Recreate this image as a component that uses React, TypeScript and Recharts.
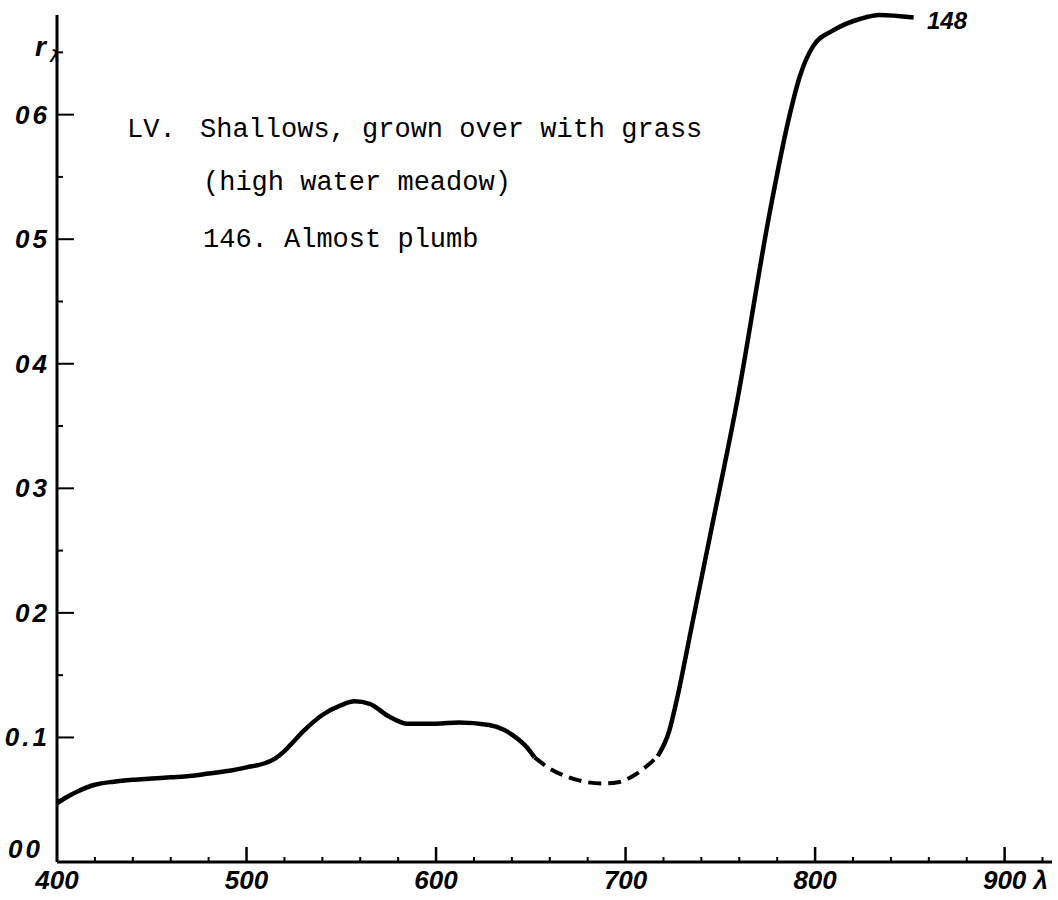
import React from "react";
import { LineChart, Line, XAxis, YAxis } from "recharts";

const wavelengths = [400, 405, 410, 420, 430, 440, 450, 460, 470, 480, 490, 500, 510, 515, 520, 525, 530, 540, 550, 557, 565, 575, 585, 600, 612, 628, 636, 643, 648, 652, 660, 670, 680, 688, 696, 705, 712, 717, 723, 727, 735, 745, 759, 776, 786, 792, 799, 810, 824, 834, 852];

const solidValues: (number | null)[] = [0.047, 0.052, 0.056, 0.062, 0.0645, 0.066, 0.067, 0.068, 0.069, 0.071, 0.073, 0.076, 0.0795, 0.083, 0.089, 0.097, 0.105, 0.118, 0.126, 0.129, 0.127, 0.117, 0.111, 0.111, 0.112, 0.110, 0.106, 0.099, 0.092, 0.084, null, null, null, null, null, null, null, 0.085, 0.105, 0.130, 0.190, 0.265, 0.371, 0.521, 0.596, 0.631, 0.655, 0.668, 0.677, 0.680, 0.678];

const dashedValues: (number | null)[] = [null, null, null, null, null, null, null, null, null, null, null, null, null, null, null, null, null, null, null, null, null, null, null, null, null, null, null, null, null, 0.084, 0.075, 0.068, 0.064, 0.063, 0.064, 0.070, 0.078, 0.085, null, null, null, null, null, null, null, null, null, null, null, null, null];

const xTicks = [400, 420, 440, 460, 480, 500, 520, 540, 560, 580, 600, 620, 640, 660, 680, 700, 720, 740, 760, 780, 800, 820, 840, 860, 880, 900, 920];
const xMajorLabels: Record<number, string> = { 400: "400", 500: "500", 600: "600", 700: "700", 800: "800", 900: "900" };

const yTicks = [0, 0.05, 0.1, 0.15, 0.2, 0.25, 0.3, 0.35, 0.4, 0.45, 0.5, 0.55, 0.6, 0.65];
const yTickLabels = ["00", "", "0.1", "", "02", "", "03", "", "04", "", "05", "", "06", ""];

const titleLines = ["Shallows, grown over with grass", "(high water meadow)", "146. Almost plumb"];
const sectionLabel = "LV.";
const curveLabel = "148";
const yAxisName = "r";
const axisSymbol = "λ";

const data = wavelengths.map((w, i) => ({ w, solid: solidValues[i], dashed: dashedValues[i] }));

const tickFont = {
  fontFamily: "'Liberation Sans', Arial, sans-serif",
  fontWeight: 700,
  fontStyle: "italic" as const,
  fontSize: 26,
  fill: "#000",
};

const YTick = (props: any) => {
  const { x, y, payload } = props;
  const idx = yTicks.findIndex((t) => Math.abs(t - payload.value) < 1e-6);
  const label = idx >= 0 ? yTickLabels[idx] : "";
  const major = label !== "";
  const isZero = idx === 0;
  return (
    <g>
      {!isZero && (
        <line x1={x} x2={x + (major ? 17 : 6)} y1={y} y2={y} stroke="#000" strokeWidth={2} />
      )}
      {major && (
        <text
          x={isZero ? x - 14 : x - 7}
          y={isZero ? y - 4 : y + 9}
          textAnchor="end"
          letterSpacing={3}
          {...tickFont}
        >
          {label}
        </text>
      )}
    </g>
  );
};

const XTick = (props: any) => {
  const { x, y, payload } = props;
  const v = payload.value;
  const label = xMajorLabels[v];
  const major = label !== undefined;
  return (
    <g>
      {v !== 400 && (
        <line x1={x} x2={x} y1={y} y2={y - (major ? 15 : 5)} stroke="#000" strokeWidth={major ? 2.5 : 2} />
      )}
      {major && (
        <text x={x} y={y + 27} textAnchor="middle" {...tickFont}>
          {label}
        </text>
      )}
      {v === 900 && (
        <text x={x + 36} y={y + 27} textAnchor="middle" {...tickFont}>
          {axisSymbol}
        </text>
      )}
    </g>
  );
};

const monoFont = {
  fontFamily: "'Liberation Mono', 'DejaVu Sans Mono', monospace",
  fontSize: 27,
  fill: "#000",
};

export default function App() {
  return (
    <div style={{ position: "absolute", left: 0, top: 0, width: 1058, height: 900, background: "#fff" }}>
      <LineChart width={1058} height={900} data={data} margin={{ top: 15, right: 6, bottom: 0, left: 0 }}>
        <XAxis
          dataKey="w"
          type="number"
          domain={[400, 925]}
          ticks={xTicks}
          interval={0}
          height={38}
          tickSize={0}
          tickMargin={0}
          tick={<XTick />}
          axisLine={{ stroke: "#000", strokeWidth: 3 }}
          tickLine={false}
        />
        <YAxis
          type="number"
          domain={[0, 0.68]}
          ticks={yTicks}
          interval={0}
          width={57}
          tickSize={0}
          tickMargin={0}
          tick={<YTick />}
          axisLine={{ stroke: "#000", strokeWidth: 3 }}
          tickLine={false}
        />
        <Line
          dataKey="solid"
          type="monotone"
          stroke="#000"
          strokeWidth={4.5}
          dot={false}
          connectNulls={false}
          isAnimationActive={false}
        />
        <Line
          dataKey="dashed"
          type="monotone"
          stroke="#000"
          strokeWidth={4}
          strokeDasharray="13 7"
          dot={false}
          connectNulls={false}
          isAnimationActive={false}
        />
      </LineChart>
      <svg
        width={1058}
        height={900}
        style={{ position: "absolute", left: 0, top: 0, pointerEvents: "none" }}
      >
        <text x={35} y={56} {...tickFont} fontSize={28}>
          {yAxisName}
        </text>
        <text x={50} y={62} {...tickFont} fontSize={17}>
          {axisSymbol}
        </text>
        <text x={127} y={137} {...monoFont}>
          {sectionLabel}
        </text>
        <text x={200} y={137} {...monoFont}>
          {titleLines[0]}
        </text>
        <text x={203} y={190} {...monoFont}>
          {titleLines[1]}
        </text>
        <text x={203} y={247} {...monoFont}>
          {titleLines[2]}
        </text>
        <text x={927} y={29} {...tickFont} fontSize={24}>
          {curveLabel}
        </text>
      </svg>
    </div>
  );
}
